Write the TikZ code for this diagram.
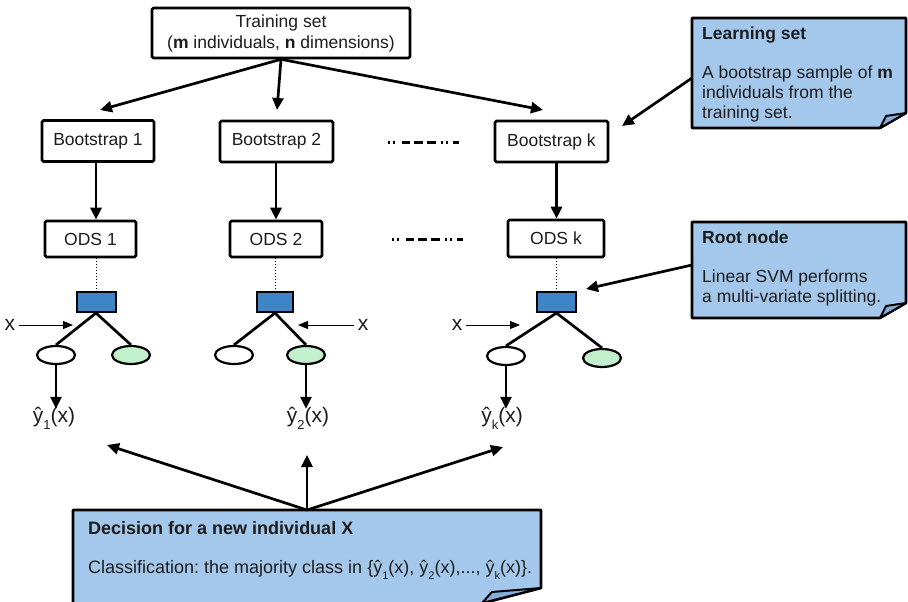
\documentclass[tikz,border=0pt]{standalone}
\usepackage{fontspec}
\setmainfont{Liberation Sans}
\usetikzlibrary{arrows.meta,shapes.geometric,backgrounds}
\definecolor{notefill}{HTML}{A4C8EC}
\definecolor{notefold}{HTML}{86AEDB}
\definecolor{rootfill}{HTML}{3D85C6}
\definecolor{leaffill}{HTML}{C3F0CC}
\definecolor{ink}{HTML}{1C1C1C}
\frenchspacing
% y-hat with a lowered index
\newcommand{\yhatsub}[2]{ŷ\raisebox{-.32em}{\fontsize{#2}{#2}\selectfont #1}}

\begin{document}
\begin{tikzpicture}[x=1pt,y=-1pt,
  font=\fontsize{17.5}{20}\selectfont,
  box/.style={draw=black, line width=2.6pt, rounded corners=1.5pt, fill=white,
    text=ink, inner sep=0pt, align=center},
  root/.style={draw=black, line width=2pt, fill=rootfill, minimum width=39pt,
    minimum height=20pt, inner sep=0pt},
  leaf/.style={ellipse, draw=black, line width=2.2pt, fill=white,
    minimum width=38pt, minimum height=18pt, inner sep=0pt},
  leafg/.style={leaf, fill=leaffill},
  arr/.style={line width=2.7pt, -{Triangle[length=12pt,width=11pt]}},
  thinarr/.style={line width=1pt, -{Triangle[length=10pt,width=8pt]}},
  branch/.style={line width=2.7pt},
  link/.style={line width=1pt, dotted},
  note/.style={draw=black, line width=2.6pt, fill=notefill, line join=round},
  fold/.style={draw=black, line width=2pt, fill=notefold, line join=round},
  notetext/.style={anchor=north west, inner sep=0pt, align=left, text=ink},
  big/.style={font=\fontsize{21}{23}\selectfont, text=ink, inner sep=0pt},
  etc/.style={line width=3pt, dash pattern=on 2pt off 3pt on 2pt off 7pt on 8pt off 4pt on 9pt off 4pt on 9pt off 5pt on 2pt off 3pt on 2pt off 5pt on 6pt off 20pt}
]
\useasboundingbox (0,0) rectangle (908,602);

% training set and bootstrap samples
\node[box, minimum width=258pt, minimum height=50pt,
  font=\fontsize{17.5}{21}\selectfont] (ts) at (281,33)
  {Training set\\(\textbf{m} individuals, \textbf{n} dimensions)};
\node[box, minimum width=112pt, minimum height=41pt] (b1) at (98,141) {Bootstrap 1};
\node[box, minimum width=113pt, minimum height=41pt] (b2) at (276.5,141.5) {Bootstrap 2};
\node[box, minimum width=113pt, minimum height=41pt] (bk) at (551.5,141.5) {Bootstrap k};

% oblique decision stumps
\node[box, minimum width=91pt, minimum height=36pt] (o1) at (90.5,239) {ODS 1};
\node[box, minimum width=92pt, minimum height=36pt] (o2) at (276,239) {ODS 2};
\node[box, minimum width=96pt, minimum height=37pt] (ok) at (556,238.5) {ODS k};

% ellipsis rows
\draw[etc] (388,142) -- (459,142);
\draw[etc] (392,239) -- (463,239);

% trees
\node[root] (r1) at (96,302) {};
\node[root, minimum width=36pt] (r2) at (275,302) {};
\node[root] (rk) at (556.5,302) {};
\node[leaf]  (l1) at (56,355) {};
\node[leafg] (g1) at (131,355) {};
\node[leaf]  (l2) at (234,355) {};
\node[leafg] (g2) at (306,355) {};
\node[leaf]  (lk) at (506,356) {};
\node[leafg] (gk) at (602,358) {};

% predictions
\node[big] (y1) at (54,418) {\yhatsub{1}{13}(x)};
\node[big] (y2) at (308,418) {\yhatsub{2}{13}(x)};
\node[big] (yk) at (502,418) {\yhatsub{k}{13}(x)};

% inputs
\node[big] (x1) at (10,325) {x};
\node[big] (x2) at (363,325) {x};
\node[big] (xk) at (457,325) {x};
\coordinate (x1t) at (73,325);
\coordinate (x2t) at (298,325);
\coordinate (xkt) at (520,325);

% notes
\path[note] (692,18) -- (906,18) -- (906,113) -- (880,128) -- (692,128) -- cycle;
\path[fold] (880,128) -- (886,116) -- (906,113) -- cycle;
\node[notetext] (lnt) at (702,26.5)
  {\textbf{Learning set}\\[19pt]A bootstrap sample of \textbf{m}\\individuals from the\\training set.};
\coordinate (lnW) at (692,78);
\coordinate (lnT) at (622,126);

\path[note] (692,222) -- (906,222) -- (906,303) -- (880,318) -- (692,318) -- cycle;
\path[fold] (880,318) -- (886,306) -- (906,303) -- cycle;
\node[notetext] (rnt) at (702,231)
  {\textbf{Root node}\\[19pt]Linear SVM performs\\a multi-variate splitting.};
\coordinate (rnW) at (692,265);
\coordinate (rnT) at (586,289);

\path[note] (73,510) -- (541,510) -- (541,588) -- (480,604) -- (73,604) -- cycle;
\path[fold] (482,603) -- (492,592) -- (541,588) -- cycle;
\node[notetext, font=\fontsize{18}{20}\selectfont] (dect) at (88,521.5)
  {\textbf{Decision for a new individual X}\\[19pt]Classification: the majority class in
   \{\yhatsub{1}{11}(x), \yhatsub{2}{11}(x),..., \yhatsub{k}{11}(x)\}.};
\coordinate (dec) at (307,510);
\coordinate (d1) at (107,445);
\coordinate (d2) at (307,455);
\coordinate (dk) at (503,447);

% bootstrap sampling
\coordinate (t1) at (100,110);
\coordinate (t2) at (277,110);
\coordinate (tk) at (543,110);
\draw[arr] (ts.south) -- (t1);
\draw[arr] (ts.south) -- (t2);
\draw[arr] (ts.south) -- (tk);

% sample -> stump
\draw[arr] (b1.south -| r1) -- (o1.north -| r1);
\draw[arr] (b2.south -| o2) -- (o2.north);
\draw[arr] (bk.south -| rk) -- (ok.north -| rk);

% stump -> root split
\draw[link] (o1.south -| r1) -- (r1.north);
\draw[link] (o2.south -| r2) -- (r2.north);
\draw[link] (ok.south -| rk) -- (rk.north);

% branches
\foreach \r/\a/\b in {r1/l1/g1, r2/l2/g2, rk/lk/gk}{
  \draw[branch] (\r.south) -- (\a.north);
  \draw[branch] (\r.south) -- (\b.north);
}

% leaf -> prediction
\draw[arr] (l1.south) -- ([yshift=-2pt]l1.south |- y1.north);
\draw[arr] (g2.south) -- ([yshift=-2pt]g2.south |- y2.north);
\draw[arr] (lk.south) -- ([yshift=-2pt]lk.south |- yk.north);

% inputs
\draw[thinarr] (x1.east) ++(4,0) -- (x1t);
\draw[thinarr] (x2.west) ++(-4,0) -- (x2t);
\draw[thinarr] (xk.east) ++(4,0) -- (xkt);

% note pointers
\draw[arr] (lnW) -- (lnT);
\draw[arr] (rnW) -- (rnT);

% aggregation
\draw[arr] (dec) -- (d1);
\draw[arr] (dec) -- (d2);
\draw[arr] (dec) -- (dk);
\end{tikzpicture}
\end{document}
